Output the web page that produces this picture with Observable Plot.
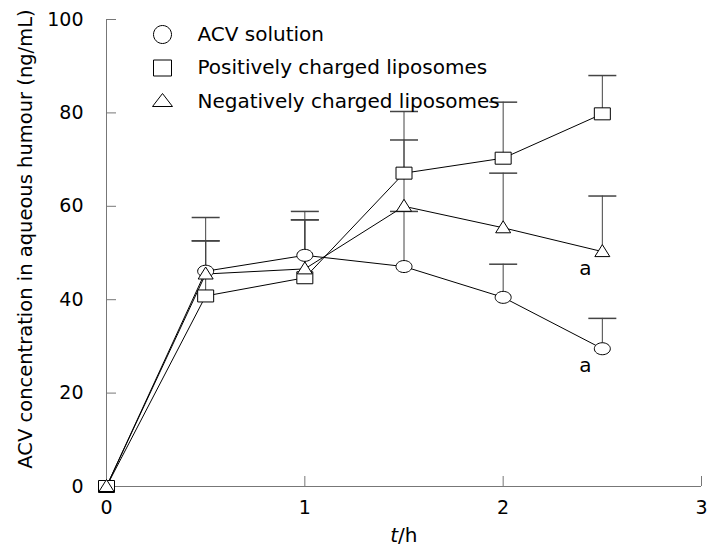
<!DOCTYPE html>
<html>
<head>
<meta charset="utf-8">
<script src="https://cdn.jsdelivr.net/npm/d3@7"></script>
<script src="https://cdn.jsdelivr.net/npm/@observablehq/plot@0.6"></script>
<style>
  html, body { margin: 0; padding: 0; background: white; }
</style>
</head>
<body>
<div id="chart"></div>
<script>
const seriesNames = ["ACV solution", "Positively charged liposomes", "Negatively charged liposomes"];
const times = [0, 0.5, 1, 1.5, 2, 2.5];
const acvValues = [0, 46.1, 49.5, 47.1, 40.5, 29.5];
const acvSD = [0, 11.5, 9.4, 11.8, 7.1, 6.5];
const posValues = [0, 40.8, 44.7, 67.1, 70.3, 79.8];
const posSD = [0, 11.8, 12.4, 13.2, 12.0, 8.2];
const negValues = [0, 45.5, 46.6, 60.0, 55.4, 50.3];
const negSD = [0, 7.1, 10.5, 14.2, 11.7, 11.9];
const xTicks = [0, 1, 2, 3];
const yTicks = [0, 20, 40, 60, 80, 100];
const significant = [["Negatively charged liposomes", 2.5], ["ACV solution", 2.5]];

const valueSets = [acvValues, posValues, negValues];
const sdSets = [acvSD, posSD, negSD];
const rows = [];
seriesNames.forEach((s, i) => times.forEach((t, j) => rows.push({series: s, t, v: valueSets[i][j], sd: sdSets[i][j]})));
const errRows = rows.filter(d => d.sd > 0);
const sigRows = significant.map(([s, t]) => rows.find(d => d.series === s && d.t === t));

const K = 0.5523;
function ellipse(rx, ry) {
  return {draw(c) {
    c.moveTo(rx, 0);
    c.bezierCurveTo(rx, K * ry, K * rx, ry, 0, ry);
    c.bezierCurveTo(-K * rx, ry, -rx, K * ry, -rx, 0);
    c.bezierCurveTo(-rx, -K * ry, -K * rx, -ry, 0, -ry);
    c.bezierCurveTo(K * rx, -ry, rx, -K * ry, rx, 0);
    c.closePath();
  }};
}
function rect(hw, hh) {
  return {draw(c) {
    c.moveTo(-hw, -hh); c.lineTo(hw, -hh); c.lineTo(hw, hh); c.lineTo(-hw, hh); c.closePath();
  }};
}
function tri(hw, top, bottom) {
  return {draw(c) {
    c.moveTo(0, -top); c.lineTo(hw, bottom); c.lineTo(-hw, bottom); c.closePath();
  }};
}
const capSymbol = {draw(c) { c.moveTo(-14, 0); c.lineTo(14, 0); }};

const plotSymbols = [ellipse(8, 6), rect(8, 6), tri(7.5, 7, 5)];
const legendSymbols = [ellipse(9, 9), rect(9, 8), tri(10, 8, 5)];

const fontFamily = "'DejaVu Sans', Verdana, sans-serif";

const marks = [
  Plot.ruleX([0], {stroke: "#777"}),
  Plot.ruleY([0], {stroke: "#777"}),
  Plot.axisX({ticks: xTicks, tickSize: -10, tickPadding: 24, stroke: "#777", fill: "black", label: null, tickFormat: d => d, fontSize: 19}),
  Plot.axisY({ticks: yTicks, tickSize: -10, tickPadding: 33, stroke: "#777", fill: "black", label: null, tickFormat: d => d, fontSize: 19}),
  Plot.ruleX(errRows, {x: "t", y1: "v", y2: d => d.v + d.sd, stroke: "#444"}),
  Plot.dot(errRows, {x: "t", y: d => d.v + d.sd, symbol: capSymbol, stroke: "#444", fill: "none", r: 5}),
  Plot.line(rows, {x: "t", y: "v", z: "series", stroke: "black", strokeWidth: 1})
];
seriesNames.forEach((s, i) => {
  marks.push(Plot.dot(rows.filter(d => d.series === s), {x: "t", y: "v", symbol: plotSymbols[i], fill: "white", stroke: "black", strokeWidth: 1, r: 5}));
});
marks.push(Plot.text(sigRows, {x: "t", y: "v", text: () => "a", dx: -17, dy: 17, fontSize: 20, fill: "black"}));
seriesNames.forEach((s, i) => {
  marks.push(Plot.dot([s], {frameAnchor: "top-left", dx: 56, dy: 15 + i * 33.5, symbol: legendSymbols[i], fill: "white", stroke: "black", strokeWidth: 1, r: 5}));
  marks.push(Plot.text([s], {frameAnchor: "top-left", dx: 91, dy: 15 + i * 33.5, text: d => d, textAnchor: "start", lineAnchor: "middle", fontSize: 20, fill: "black"}));
});
marks.push(Plot.text(["ACV concentration in aqueous humour (ng/mL)"], {frameAnchor: "left", text: d => d, rotate: -90, dx: -81, dy: -14, fontSize: 19.5, fill: "black", textAnchor: "middle", lineAnchor: "middle"}));
marks.push(Plot.text(["t"], {frameAnchor: "bottom", text: d => d, dx: -6, dy: 49, textAnchor: "end", fontStyle: "italic", fontSize: 20, fill: "black", lineAnchor: "middle"}));
marks.push(Plot.text(["/h"], {frameAnchor: "bottom", text: d => d, dx: -6, dy: 49, textAnchor: "start", fontSize: 20, fill: "black", lineAnchor: "middle"}));

const chart = Plot.plot({
  width: 714,
  height: 556,
  marginLeft: 106,
  marginRight: 13,
  marginTop: 19,
  marginBottom: 70,
  x: {domain: [0, 3], axis: null},
  y: {domain: [0, 100], axis: null},
  style: {fontFamily, fontSize: "19px", color: "black", background: "white", overflow: "visible"},
  marks
});
document.getElementById("chart").appendChild(chart);
</script>
</body>
</html>
